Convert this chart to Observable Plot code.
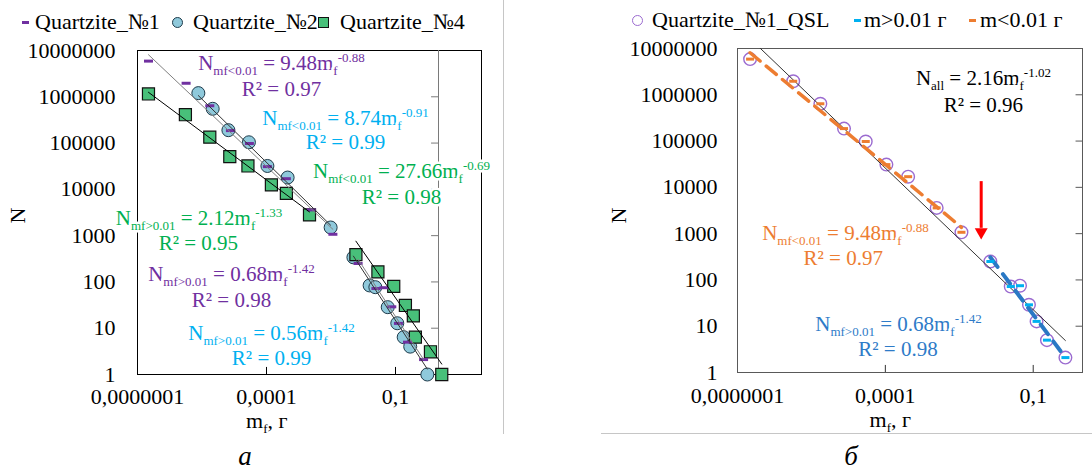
<!DOCTYPE html>
<html><head><meta charset="utf-8">
<script src="https://cdn.jsdelivr.net/npm/d3@7"></script>
<script src="https://cdn.jsdelivr.net/npm/@observablehq/plot@0.6"></script>
<style>
body{margin:0;background:#fff;}
#fig{position:relative;width:1092px;height:470px;font-family:"Liberation Serif","Times New Roman","DejaVu Serif","Noto Serif",serif;background:#fff;}
.panel{position:absolute;top:0;}
.leg{position:absolute;font-size:22px;line-height:26px;white-space:nowrap;color:#000;}
.mk{position:absolute;box-sizing:border-box;}
.cap{position:absolute;font-style:italic;font-size:27px;line-height:20px;transform:translate(-50%,-50%);}
.sep{position:absolute;background:#c6c6c6;}
</style></head><body><div id="fig"></div>
<script>
// ---------- axis ticks ----------
const X_TICKS = [1e-7, 1e-4, 1e-1];
const X_TICK_LABELS = ["0,0000001", "0,0001", "0,1"];
const Y_TICKS = [1, 10, 100, 1000, 10000, 100000, 1000000, 10000000];
const Y_TICK_LABELS = ["1", "10", "100", "1000", "10000", "100000", "1000000", "10000000"];

// ---------- data: Quartzite №1 (QSL) ----------
const qslMass  = [1.8e-7, 1.35e-6, 4.8e-6, 1.45e-5, 4.0e-5, 1.05e-4, 2.9e-4, 1.1e-3, 3.5e-3, 0.0135, 0.035, 0.054, 0.082, 0.117, 0.19, 0.45];
const qslCount = [5.9e6, 1.96e6, 6.4e5, 1.86e5, 9.8e4, 3.1e4, 1.7e4, 3.6e3, 1.07e3, 250, 72, 75, 29, 12.7, 5.0, 2.1];
// ---------- data: Quartzite №2 ----------
const q2Mass  = [2.6e-6, 5.6e-6, 1.3e-5, 3.9e-5, 1.05e-4, 3.1e-4, 3.1e-3, 0.0105, 0.025, 0.034, 0.066, 0.11, 0.155, 0.22, 0.55];
const q2Count = [1.2e6, 5.5e5, 1.9e5, 1.04e5, 3.2e4, 1.8e4, 1.5e3, 340, 84, 77, 28.5, 12.8, 6.4, 4, 1];
// ---------- data: Quartzite №4 ----------
const q4Mass  = [1.8e-7, 1.3e-6, 4.8e-6, 1.4e-5, 3.7e-5, 1.3e-4, 2.9e-4, 1.0e-3, 0.012, 0.039, 0.091, 0.17, 0.26, 0.29, 0.65, 1.19];
const q4Count = [1.15e6, 4.1e5, 1.34e5, 5.1e4, 3.2e4, 1.25e4, 8.2e3, 2.8e3, 390, 165, 80, 31, 18.5, 6.4, 3.1, 1];

// ---------- trend line end points ----------
const trend1SmallMass = [1.8e-7, 3.5e-3], trend1SmallCount = [8.1e6, 1370];
const trend2SmallMass = [2.6e-6, 3.1e-3], trend2SmallCount = [1.06e6, 1680];
const trend4SmallMass = [1.8e-7, 1.0e-3], trend4SmallCount = [1.25e6, 3250];
const trend1LargeMass = [0.0135, 0.45], trend1LargeCount = [308, 2.11];
const trend2LargeMass = [0.0105, 0.55], trend2LargeCount = [361, 1.31];
const trend4LargeMass = [0.012, 1.19], trend4LargeCount = [760, 1.68];
const trendAllMass = [1.8e-7, 0.45], trendAllCount = [1.64e7, 4.9];

// ---------- annotations ----------
const PURPLE = "#7030A0", CYAN = "#00B0F0", GREEN = "#00B050", ORANGE = "#ED7D31", BLUE = "#2E7BC8", RED = "#FF0000";
const leftLabelText = ["N_{mf<0.01} = 9.48m_{f}^{-0.88}", "R² = 0.97", "N_{mf<0.01} = 8.74m_{f}^{-0.91}", "R² = 0.99",
  "N_{mf<0.01} = 27.66m_{f}^{-0.69}", "R² = 0.98", "N_{mf>0.01} = 2.12m_{f}^{-1.33}", "R² = 0.95",
  "N_{mf>0.01} = 0.68m_{f}^{-1.42}", "R² = 0.98", "N_{mf>0.01} = 0.56m_{f}^{-1.42}", "R² = 0.99"];
const leftLabelMass = [2.23e-4, 2.23e-4, 6.87e-3, 6.87e-3, 0.138, 0.138, 2.7e-6, 2.6e-6, 1.53e-5, 1.53e-5, 1.31e-4, 1.31e-4];
const leftLabelCount = [5.4e6, 1.45e6, 3.5e5, 1.03e5, 2.4e4, 6.7e3, 2.4e3, 690, 150, 40, 7.6, 2.25];
const leftLabelColor = [PURPLE, PURPLE, CYAN, CYAN, GREEN, GREEN, GREEN, GREEN, PURPLE, PURPLE, CYAN, CYAN];

const rightLabelText = ["N_{all} = 2.16m_{f}^{-1.02}", "R² = 0.96", "N_{mf<0.01} = 9.48m_{f}^{-0.88}", "R² = 0.97",
  "N_{mf>0.01} = 0.68m_{f}^{-1.42}", "R² = 0.98"];
const rightLabelMass = [9.77e-3, 9.77e-3, 1.55e-5, 1.4e-5, 1.85e-4, 1.8e-4];
const rightLabelCount = [2.25e6, 5.9e5, 1000, 290, 10.9, 3.15];
const rightLabelColor = ["#000", "#000", ORANGE, ORANGE, BLUE, BLUE];

const arrowMass = 8.8e-3, arrowTop = 1.33e4, arrowShaftEnd = 1302, arrowHead = 1083;
const X_TITLE = "m_{f}, г", Y_TITLE = "N";
const leftXTitleMass = 1.02e-4, rightXTitleMass = 1.26e-4;
const THRESHOLD = 0.01;

// ---------- helpers ----------
const FONT = '"Liberation Serif", "Times New Roman", "DejaVu Serif", "Noto Serif", serif';
const fmtX = d => X_TICK_LABELS[X_TICKS.findIndex(v => Math.abs(Math.log10(v) - Math.log10(d)) < 1e-6)];
const fmtY = d => Y_TICK_LABELS[Y_TICKS.findIndex(v => Math.abs(Math.log10(v) - Math.log10(d)) < 1e-6)];
const dashSymbol = {draw(ctx, size) { const w = Math.sqrt(size / Math.PI); ctx.moveTo(-w, 0); ctx.lineTo(w, 0); }};
const pts = (m, c) => m.map((x, i) => ({x, y: c[i]}));

function richify(svg) {
  const NS = "http://www.w3.org/2000/svg";
  svg.querySelectorAll("text").forEach(t => {
    const s = t.textContent;
    if (!/[_^]\{/.test(s)) return;
    while (t.firstChild) t.removeChild(t.firstChild);
    const re = /([_^])\{([^}]*)\}|([^_^]+)/g;
    let m, shift = 0;
    while ((m = re.exec(s))) {
      const ts = document.createElementNS(NS, "tspan");
      if (m[3] !== undefined) {
        ts.textContent = m[3];
        if (shift) ts.setAttribute("dy", -shift);
        shift = 0;
      } else {
        const target = m[1] === "_" ? 5 : -8;
        ts.setAttribute("dy", target - shift);
        shift = target;
        ts.setAttribute("font-size", "13");
        ts.textContent = m[2];
      }
      t.appendChild(ts);
    }
  });
}

function labels(text, mass, count, color) {
  return Plot.text(text, {x: (d, i) => mass[i], y: (d, i) => count[i], fill: (d, i) => color[i],
    fontSize: 21, fontFamily: FONT, stroke: "white", strokeWidth: 5, paintOrder: "stroke"});
}

const baseStyle = {fontFamily: FONT, fontSize: "22px", color: "#000", background: "transparent", overflow: "visible"};

// ---------- left panel ----------
const left = Plot.plot({
  width: 504, height: 420, marginLeft: 137, marginRight: 23, marginTop: 50, marginBottom: 46,
  x: {type: "log", domain: [1e-7, 10]},
  y: {type: "log", domain: [1, 1e7]},
  color: {type: "identity"},
  style: baseStyle,
  marks: [
    Plot.frame({stroke: "#000"}),
    Plot.ruleX([1], {stroke: "#7a7a7a"}),
    Plot.ruleY(Y_TICKS.slice(1, -1), {x1: 0.69, x2: 1, stroke: "#7a7a7a"}),
    Plot.ruleX(X_TICKS.slice(1), {y1: 1, y2: 1.42, stroke: "#000"}),
    Plot.axisX({ticks: X_TICKS, tickFormat: fmtX, tickSize: 0, tickPadding: 14, label: null, fontSize: 22, fontFamily: FONT}),
    Plot.axisY({ticks: Y_TICKS, tickFormat: fmtY, tickSize: 0, tickPadding: 22, label: null, fontSize: 22, fontFamily: FONT}),
    Plot.dot(pts(q2Mass, q2Count), {x: "x", y: "y", r: 6.5, fill: "#8FC9DB", stroke: "#1E3A4A", strokeWidth: 1}),
    Plot.dot(pts(q4Mass, q4Count), {x: "x", y: "y", symbol: "square", r: 6.8, fill: "#48C07A", stroke: "#111", strokeWidth: 1.2}),
    Plot.dot(pts(qslMass, qslCount), {x: "x", y: "y", symbol: dashSymbol, r: 4.5, fill: "none", stroke: PURPLE, strokeWidth: 3}),
    Plot.line(pts(trend1SmallMass, trend1SmallCount), {x: "x", y: "y", stroke: "#808080", strokeWidth: 1, clip: true}),
    Plot.line(pts(trend2SmallMass, trend2SmallCount), {x: "x", y: "y", stroke: "#333", strokeWidth: 1, clip: true}),
    Plot.line(pts(trend4SmallMass, trend4SmallCount), {x: "x", y: "y", stroke: "#000", strokeWidth: 1, clip: true}),
    Plot.line(pts(trend1LargeMass, trend1LargeCount), {x: "x", y: "y", stroke: "#808080", strokeWidth: 1}),
    Plot.line(pts(trend2LargeMass, trend2LargeCount), {x: "x", y: "y", stroke: "#333", strokeWidth: 1}),
    Plot.line(pts(trend4LargeMass, trend4LargeCount), {x: "x", y: "y", stroke: "#000", strokeWidth: 1}),
    labels(leftLabelText, leftLabelMass, leftLabelCount, leftLabelColor),
    Plot.text([Y_TITLE], {frameAnchor: "left", textAnchor: "middle", lineAnchor: "middle", dx: -119.5, dy: 3, rotate: -90, fontSize: 22, fontFamily: FONT}),
    Plot.text([X_TITLE], {x: () => leftXTitleMass, frameAnchor: "bottom", lineAnchor: "middle", dy: 46, fontSize: 22, fontFamily: FONT})
  ]
});

// ---------- right panel ----------
const small = qslMass.map((m, i) => ({x: m, y: qslCount[i]})).filter(d => d.x < THRESHOLD);
const large = qslMass.map((m, i) => ({x: m, y: qslCount[i]})).filter(d => d.x >= THRESHOLD);
const right = Plot.plot({
  width: 588, height: 420, marginLeft: 233, marginRight: 10, marginTop: 48, marginBottom: 48,
  x: {type: "log", domain: [1e-7, 1]},
  y: {type: "log", domain: [1, 1e7]},
  color: {type: "identity"},
  style: baseStyle,
  marks: [
    Plot.frame({stroke: "#595959"}),
    Plot.ruleY(Y_TICKS.slice(1, -1), {x1: 0.74, x2: 1, stroke: "#595959"}),
    Plot.ruleX(X_TICKS.slice(1), {y1: 1, y2: 1.42, stroke: "#333"}),
    Plot.axisX({ticks: X_TICKS, tickFormat: fmtX, tickSize: 0, tickPadding: 15, label: null, fontSize: 22, fontFamily: FONT}),
    Plot.axisY({ticks: Y_TICKS, tickFormat: fmtY, tickSize: 0, tickPadding: 20, label: null, fontSize: 22, fontFamily: FONT}),
    Plot.dot(pts(qslMass, qslCount), {x: "x", y: "y", r: 6.3, fill: "none", stroke: "#9B6BD0", strokeWidth: 1.4}),
    Plot.line(pts(trendAllMass, trendAllCount), {x: "x", y: "y", stroke: "#333", strokeWidth: 1, clip: true}),
    Plot.line(pts(trend1SmallMass, trend1SmallCount), {x: "x", y: "y", stroke: ORANGE, strokeWidth: 3.5, strokeDasharray: "13,8", clip: true}),
    Plot.line(pts(trend1LargeMass, trend1LargeCount), {x: "x", y: "y", stroke: "#2A78C4", strokeWidth: 4, strokeDasharray: "12,9"}),
    Plot.dot(small, {x: "x", y: "y", symbol: dashSymbol, r: 4, fill: "none", stroke: ORANGE, strokeWidth: 3}),
    Plot.dot(large, {x: "x", y: "y", symbol: dashSymbol, r: 4, fill: "none", stroke: CYAN, strokeWidth: 3}),
    Plot.ruleX([arrowMass], {y1: arrowTop, y2: arrowShaftEnd, stroke: RED, strokeWidth: 3}),
    Plot.dot([arrowMass], {x: d => d, y: () => arrowHead, symbol: "triangle", rotate: 180, r: 4.8, fill: RED, stroke: "none"}),
    labels(rightLabelText, rightLabelMass, rightLabelCount, rightLabelColor),
    Plot.text([Y_TITLE], {frameAnchor: "left", textAnchor: "middle", lineAnchor: "middle", dx: -119, dy: 5, rotate: -90, fontSize: 22, fontFamily: FONT}),
    Plot.text([X_TITLE], {x: () => rightXTitleMass, frameAnchor: "bottom", lineAnchor: "middle", dy: 47, fontSize: 22, fontFamily: FONT})
  ]
});

richify(left); richify(right);

// ---------- layout ----------
const fig = document.getElementById("fig");
function place(el, l, t) { el.style.left = l + "px"; el.style.top = t + "px"; fig.appendChild(el); return el; }
const lp = document.createElement("div"); lp.className = "panel"; lp.appendChild(left); place(lp, 0, 0);
const rp = document.createElement("div"); rp.className = "panel"; rp.appendChild(right); place(rp, 504, 0);

function sep(l, t, w, h) { const d = document.createElement("div"); d.className = "sep"; d.style.width = w + "px"; d.style.height = h + "px"; place(d, l, t); }
sep(503, 0, 1, 434);
sep(601, 433, 491, 1);

function marker(kind, color, cx, cy) {
  const d = document.createElement("div"); d.className = "mk";
  let w = 11, h = 11;
  if (kind === "dash") { w = 7; h = 3; d.style.background = color; }
  if (kind === "circle") { d.style.background = "#8FC9DB"; d.style.border = "1px solid #1E3A4A"; d.style.borderRadius = "50%"; }
  if (kind === "ring") { d.style.border = "1.5px solid " + color; d.style.borderRadius = "50%"; }
  if (kind === "square") { d.style.background = "#48C07A"; d.style.border = "1px solid #111"; }
  d.style.width = w + "px"; d.style.height = h + "px";
  place(d, cx - w / 2, cy - h / 2);
}
function legText(txt, l, cy) { const s = document.createElement("div"); s.className = "leg"; s.textContent = txt; place(s, l, cy - 13); }

const leftLegend = [["dash", PURPLE, 25, "Quartzite_№1", 35], ["circle", "", 177, "Quartzite_№2", 193], ["square", "", 323, "Quartzite_№4", 340]];
leftLegend.forEach(([k, c, mx, t, tx]) => { marker(k, c, mx, 22); legText(t, tx, 22); });
const rightLegend = [["ring", "#9B6BD0", 637, "Quartzite_№1_QSL", 652], ["dash", CYAN, 857, "m>0.01 г", 864], ["dash", ORANGE, 972, "m<0.01 г", 980]];
rightLegend.forEach(([k, c, mx, t, tx]) => { marker(k, c, mx, 20); legText(t, tx, 20); });

function caption(txt, cx, cy) { const c = document.createElement("div"); c.className = "cap"; c.textContent = txt; place(c, cx, cy); }
caption("а", 245, 456);
caption("б", 851, 456);
</script></body></html>
